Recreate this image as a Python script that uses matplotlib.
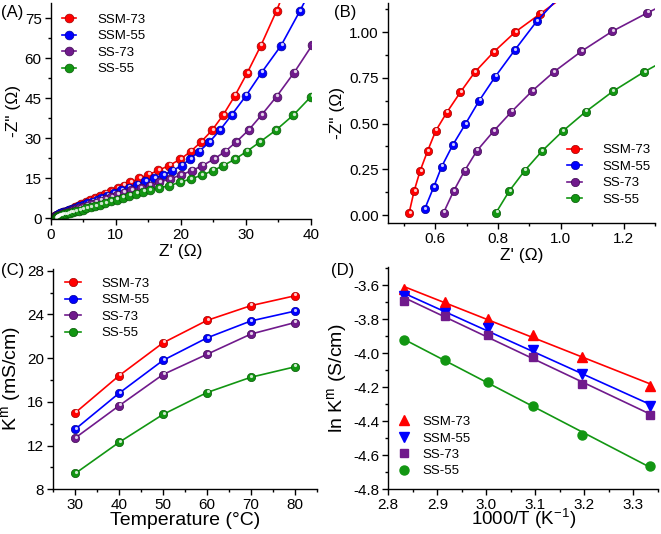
import numpy as np
import matplotlib
matplotlib.use("Agg")
import matplotlib.pyplot as plt
import matplotlib.transforms as mtransforms
from matplotlib.legend_handler import HandlerTuple
from matplotlib.ticker import MultipleLocator, FormatStrFormatter

plt.rcParams['font.family'] = ['Liberation Sans', 'DejaVu Sans']
plt.rcParams['mathtext.fontset'] = 'custom'
plt.rcParams['mathtext.rm'] = 'Liberation Sans'
plt.rcParams['axes.unicode_minus'] = False

# ---------------- data ----------------
series_names = ['SSM-73', 'SSM-55', 'SS-73', 'SS-55']
colors = ['#ff0000', '#0000ff', '#701a8c', '#129612']
edge_colors = ['#a00000', '#00009a', '#3e0a52', '#075a07']

# Nyquist data (Z', -Z'')
zre_ssm73 = [0.517, 0.533, 0.552, 0.576, 0.602, 0.637, 0.680, 0.726, 0.786, 0.855, 0.935,
             1.03, 1.14, 1.27, 1.43, 1.62, 1.85, 2.12, 2.43, 2.79, 3.20,
             3.66, 4.17, 4.73, 5.35, 6.02, 6.75, 7.54, 8.39, 9.30, 10.27,
             11.25, 12.2, 13.6, 15.0, 16.5, 18.2, 19.9, 21.5, 23.1, 24.8,
             26.5, 28.3, 30.2, 32.3, 34.7, 37.2]
zim_ssm73 = [0.01, 0.13, 0.24, 0.35, 0.46, 0.56, 0.67, 0.78, 0.89, 1.00, 1.10,
             1.22, 1.35, 1.50, 1.68, 1.89, 2.14, 2.44, 2.78, 3.17, 3.62,
             4.12, 4.67, 5.28, 5.94, 6.66, 7.44, 8.28, 9.18, 10.14, 11.16,
             12.2, 13.4, 14.9, 16.3, 17.9, 19.75, 22.1, 25.0, 28.6, 33.0,
             38.7, 45.9, 54.5, 64.75, 77.75, 93.0]

zre_ssm55 = [0.567, 0.595, 0.621, 0.656, 0.696, 0.740, 0.791, 0.853, 0.924,
             1.00, 1.09, 1.20, 1.33, 1.49, 1.68, 1.91, 2.18, 2.50, 2.87,
             3.30, 3.79, 4.34, 4.96, 5.64, 6.39, 7.1, 7.8, 8.7, 9.7,
             10.8, 12.0, 13.3, 14.5, 15.9, 17.3, 18.7, 20.1, 21.4, 22.8,
             24.4, 26.0, 27.8, 30.0, 32.4, 35.4, 38.3, 41.5]
zim_ssm55 = [0.033, 0.151, 0.265, 0.382, 0.496, 0.624, 0.755, 0.900, 1.06,
             1.2, 1.32, 1.45, 1.6, 1.77, 1.96, 2.18, 2.43, 2.72, 3.06,
             3.45, 3.9, 4.4, 4.95, 5.55, 6.2, 6.85, 7.6, 8.5, 9.4,
             10.4, 11.5, 12.6, 13.8, 15.0, 16.2, 17.85, 19.7, 22.2, 25.0,
             28.6, 33.0, 38.7, 45.9, 54.6, 64.75, 77.75, 93.0]

zre_ss73 = [0.627, 0.659, 0.694, 0.733, 0.786, 0.843, 0.909, 0.978, 1.066, 1.164, 1.276,
            1.40, 1.55, 1.72, 1.92, 2.15, 2.42, 2.72, 3.06, 3.45, 3.9,
            4.4, 4.95, 5.55, 6.2, 6.9, 7.65, 8.45, 9.3, 10.2, 11.2,
            12.4, 13.8, 15.25, 16.7, 18.3, 20.0, 21.7, 23.3, 25.1, 26.8,
            28.5, 30.4, 32.4, 34.7, 37.4, 40.2, 43.3]
zim_ss73 = [0.013, 0.131, 0.242, 0.351, 0.458, 0.564, 0.678, 0.782, 0.895, 1.004, 1.105,
            1.21, 1.33, 1.47, 1.63, 1.82, 2.04, 2.29, 2.57, 2.9, 3.28,
            3.7, 4.17, 4.68, 5.24, 5.84, 6.5, 7.2, 7.95, 8.75, 9.6,
            10.4, 11.3, 12.2, 13.5, 14.7, 16.2, 17.85, 19.7, 22.2, 25.0,
            28.6, 33.0, 38.7, 45.6, 54.6, 65.0, 78.0]

zre_ss55 = [0.794, 0.836, 0.885, 0.940, 1.006, 1.079, 1.166, 1.265,
            1.38, 1.52, 1.68, 1.87, 2.09, 2.35, 2.65, 3.0, 3.4, 3.85,
            4.35, 4.9, 5.5, 6.15, 6.85, 7.6, 8.4, 9.25, 10.15, 11.1,
            12.1, 13.15, 14.2, 15.25, 16.6, 18.2, 19.9, 21.5, 23.2, 24.9,
            26.5, 28.3, 30.1, 32.1, 34.6, 37.3, 40.0, 43.0]
zim_ss55 = [0.013, 0.131, 0.242, 0.349, 0.458, 0.564, 0.676, 0.782,
            0.89, 1.0, 1.12, 1.25, 1.4, 1.57, 1.77, 2.0, 2.26, 2.55,
            2.88, 3.25, 3.66, 4.11, 4.6, 5.13, 5.7, 6.31, 6.96, 7.65,
            8.38, 9.15, 9.9, 10.6, 11.3, 12.2, 13.5, 14.7, 16.1, 17.8,
            19.7, 22.1, 25.0, 28.5, 33.0, 38.7, 45.6, 54.6]

zre_all = [zre_ssm73, zre_ssm55, zre_ss73, zre_ss55]
zim_all = [zim_ssm73, zim_ssm55, zim_ss73, zim_ss55]

# Conductivity vs temperature
temperature = [30, 40, 50, 60, 70, 80]
k_ssm73 = [15.0, 18.4, 21.4, 23.45, 24.8, 25.7]
k_ssm55 = [13.5, 16.8, 19.8, 21.85, 23.4, 24.3]
k_ss73 = [12.7, 15.65, 18.5, 20.35, 22.2, 23.25]
k_ss55 = [9.45, 12.3, 14.85, 16.85, 18.25, 19.2]
k_all = [k_ssm73, k_ssm55, k_ss73, k_ss55]

# Arrhenius data
inv_t = [2.833, 2.915, 3.003, 3.096, 3.195, 3.333]
lnk_ssm73 = [-3.62, -3.70, -3.80, -3.89, -4.02, -4.19]
lnk_ssm55 = [-3.66, -3.76, -3.85, -3.98, -4.12, -4.31]
lnk_ss73 = [-3.69, -3.78, -3.89, -4.02, -4.18, -4.36]
lnk_ss55 = [-3.92, -4.04, -4.17, -4.31, -4.48, -4.66]
lnk_all = [lnk_ssm73, lnk_ssm55, lnk_ss73, lnk_ss55]
arr_markers = ['^', 'v', 's', 'o']
arr_msize = [7.5, 7.5, 6.0, 6.5]

# ---------------- figure ----------------
W, H = 661, 534
fig = plt.figure(figsize=(W / 100, H / 100), dpi=100)


def px_axes(l, r, t, b):
    return fig.add_axes([l / W, 1 - b / H, (r - l) / W, (b - t) / H])


def style(ax):
    for s in ['top', 'right']:
        ax.spines[s].set_visible(False)
    for s in ['left', 'bottom']:
        ax.spines[s].set_linewidth(1.0)
    ax.tick_params(which='major', direction='out', length=4, width=1.0,
                   labelsize=11, pad=2.5)
    ax.tick_params(which='minor', direction='out', length=2.3, width=1.0)


def sphere(ax, x, y, color, ecolor, ms, label):
    line, = ax.plot(x, y, '-', color=color, lw=1.2, marker='o', ms=ms,
                    mfc=color, mec=ecolor, mew=0.5, label=label)
    tr = mtransforms.offset_copy(ax.transData, fig=fig, x=0.4, y=1.0, units='points')
    hl, = ax.plot(x, y, ls='none', marker='o', ms=ms * 0.38, mfc='white',
                  mec='none', alpha=0.8, transform=tr)
    return (line, hl)


def add_legend(ax, handles, anchor, hlen, hpad, spacing=0.32):
    ax.legend(handles, series_names, loc='upper left', bbox_to_anchor=anchor,
              frameon=False, fontsize=9.5, handlelength=hlen, handletextpad=hpad,
              labelspacing=spacing, borderpad=0, borderaxespad=0,
              handler_map={tuple: HandlerTuple(ndivide=None)})


# Panel A
axA = px_axes(50.7, 311, 3.3, 219)
style(axA)
hA = []
for xs, ys, c, ec, nm in zip(zre_all, zim_all, colors, edge_colors, series_names):
    hA.append(sphere(axA, xs, ys, c, ec, 6.3, nm))
axA.set_xlim(0, 40)
axA.set_ylim(-0.3, 80.6)
axA.xaxis.set_major_locator(MultipleLocator(10))
axA.xaxis.set_minor_locator(MultipleLocator(5))
axA.yaxis.set_major_locator(MultipleLocator(15))
axA.yaxis.set_minor_locator(MultipleLocator(7.5))
axA.set_xlabel("Z' (Ω)", fontsize=12.5, labelpad=1.5)
axA.set_ylabel('-Z" (Ω)', fontsize=12.5, labelpad=3)
add_legend(axA, hA, (0.043, 0.952), 2.1, 0.6)

# Panel B
axB = px_axes(388, 655, 3.3, 222.7)
style(axB)
hB = []
for xs, ys, c, ec, nm in zip(zre_all, zim_all, colors, edge_colors, series_names):
    hB.append(sphere(axB, xs, ys, c, ec, 6.0, nm))
axB.set_xlim(0.45, 1.30)
axB.set_ylim(-0.042, 1.157)
axB.xaxis.set_major_locator(MultipleLocator(0.2))
axB.xaxis.set_minor_locator(MultipleLocator(0.1))
axB.yaxis.set_major_locator(MultipleLocator(0.25))
axB.yaxis.set_minor_locator(MultipleLocator(0.125))
axB.yaxis.set_major_formatter(FormatStrFormatter('%.2f'))
axB.xaxis.set_major_formatter(FormatStrFormatter('%.1f'))
axB.set_xlabel("Z' (Ω)", fontsize=12.5, labelpad=1.5)
axB.set_ylabel('-Z" (Ω)', fontsize=12.5, labelpad=3)
add_legend(axB, hB, (0.669, 0.358), 2.4, 0.3)

# Panel C
axC = px_axes(53.3, 316.7, 268.5, 489.3)
style(axC)
hC = []
for ys, c, ec, nm in zip(k_all, colors, edge_colors, series_names):
    hC.append(sphere(axC, temperature, ys, c, ec, 6.0, nm))
axC.set_xlim(25, 85)
axC.set_ylim(8, 28.2)
axC.xaxis.set_major_locator(MultipleLocator(10))
axC.xaxis.set_minor_locator(MultipleLocator(5))
axC.yaxis.set_major_locator(MultipleLocator(4))
axC.yaxis.set_minor_locator(MultipleLocator(2))
axC.set_xlabel('Temperature (°C)', fontsize=14, labelpad=-0.5)
axC.set_ylabel(r'K$^\mathregular{m}$ (mS/cm)', fontsize=14, labelpad=2)
add_legend(axC, hC, (0.044, 0.958), 2.5, 0.25)

# Panel D
axD = px_axes(388.3, 658, 266.7, 489.3)
style(axD)
hD = []
for ys, c, mk, ms, nm in zip(lnk_all, colors, arr_markers, arr_msize, series_names):
    p = np.polyfit(inv_t, ys, 1)
    xf = np.array([inv_t[0], inv_t[-1]])
    axD.plot(xf, np.polyval(p, xf), '-', color=c, lw=1.2)
    h, = axD.plot(inv_t, ys, ls='none', marker=mk, ms=ms, color=c, mec=c, label=nm)
    hD.append(h)
axD.set_xlim(2.8, 3.35)
axD.set_ylim(-4.8, -3.49)
axD.xaxis.set_major_locator(MultipleLocator(0.1))
axD.xaxis.set_minor_locator(MultipleLocator(0.05))
axD.yaxis.set_major_locator(MultipleLocator(0.2))
axD.yaxis.set_minor_locator(MultipleLocator(0.1))
axD.yaxis.set_major_formatter(FormatStrFormatter('%.1f'))
axD.xaxis.set_major_formatter(FormatStrFormatter('%.1f'))
axD.set_xlabel(r'1000/T (K$^\mathregular{-1}$)', fontsize=13.5)
axD.xaxis.set_label_coords(0.5, -0.074)
axD.set_ylabel(r'ln K$^\mathregular{m}$ (S/cm)', fontsize=14, labelpad=2)
axD.legend(hD, series_names, loc='upper left', bbox_to_anchor=(0.035, 0.33),
           frameon=False, fontsize=9.5, handlelength=1.0, handletextpad=0.9,
           labelspacing=0.32, borderpad=0, borderaxespad=0)

# Panel letters
for txt, x, y in [('(A)', 1, 12), ('(B)', 334, 12), ('(C)', 1, 271), ('(D)', 331, 271)]:
    fig.text(x / W, 1 - y / H, txt, fontsize=12, ha='left', va='center')

fig.savefig('out.png', dpi=100)
